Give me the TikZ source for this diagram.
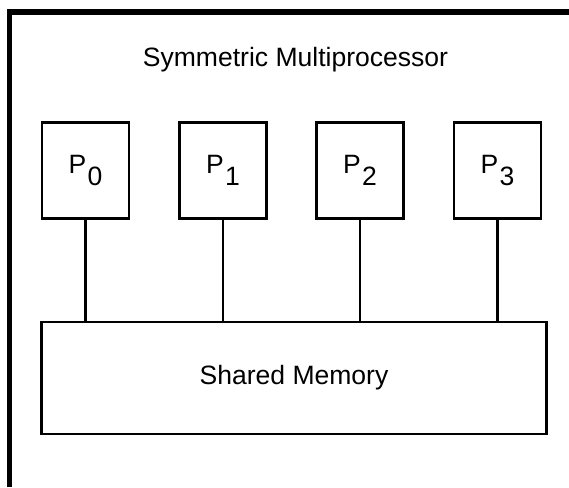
\documentclass[tikz,border=0pt]{standalone}
\usepackage{fontspec}
\setmainfont{Liberation Sans}

\begin{document}
\begin{tikzpicture}[x=0.75pt, y=-0.75pt,
  every node/.style = {font=\fontsize{19.9}{24}\selectfont},
  proc/.style = {shape=rectangle, draw, line width=1.9pt,
    minimum width=65pt, minimum height=72pt, inner sep=0pt},
  mem/.style = {shape=rectangle, draw, line width=2.2pt,
    minimum width=379pt, minimum height=84pt},
  link/.style = {line width=1.9pt}]
  \useasboundingbox (0,0) rectangle (569,487);
  % frame of the machine
  \draw[line width=3.8pt] (9.5,487) -- (9.5,12) -- (569,12);
  \node[anchor=base] (title) at (295.5,66) {Symmetric Multiprocessor};
  \node[mem] (mem) at (294,378) {Shared Memory};
  \foreach \i/\x in {0/85.5, 1/223, 2/360, 3/497.5} {
    \node[proc] (p\i) at (\x,170.5) {P\hspace{0.05em}\raisebox{-0.45em}{\i}};
    \draw[link] (p\i) -- (p\i |- mem.north);
  }
\end{tikzpicture}
\end{document}
